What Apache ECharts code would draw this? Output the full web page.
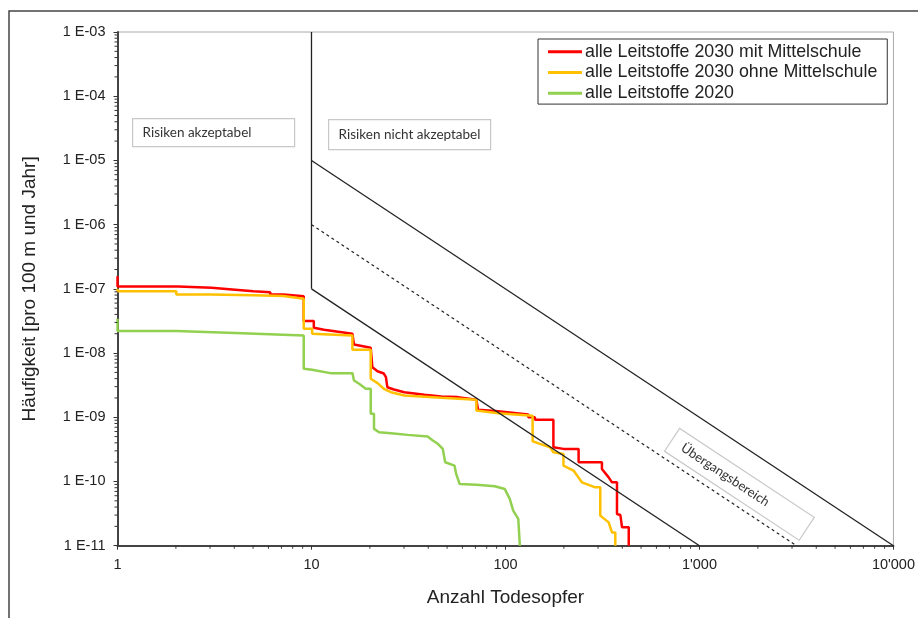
<!DOCTYPE html>
<html>
<head>
<meta charset="utf-8">
<script src="https://cdn.jsdelivr.net/npm/echarts@6/dist/echarts.min.js"></script>
<style>html,body{margin:0;padding:0;background:#fff}#c{width:918px;height:618px}</style>
</head>
<body>
<div id="c"></div>
<script>
// ---- data ----
const seriesNames = ['alle Leitstoffe 2030 mit Mittelschule', 'alle Leitstoffe 2030 ohne Mittelschule', 'alle Leitstoffe 2020'];
const redData = [[1,1.57e-7],[1,1.09e-7],[2.05,1.09e-7],[2.05,1.04e-7],[3.06,1.04e-7],[3.06,9.7e-8],[4.04,9.7e-8],[4.04,9.14e-8],[5.02,9.14e-8],[5.02,8.82e-8],[6.13,8.82e-8],[6.13,8.2e-8],[7.16,8.2e-8],[7.16,7.92e-8],[9.12,7.64e-8],[9.12,3.15e-8],[10.28,3.15e-8],[10.28,2.48e-8],[11.6,2.3e-8],[16.25,2.0e-8],[16.56,2.0e-8],[16.56,1.36e-8],[20.2,1.21e-8],[20.6,1.21e-8],[20.6,6.0e-9],[21.9,5.2e-9],[23.6,4.8e-9],[24.2,4.22e-9],[24.6,4.22e-9],[24.6,2.94e-9],[26.6,2.71e-9],[30.1,2.46e-9],[38.2,2.24e-9],[46.6,2.1e-9],[56.9,2.06e-9],[70.8,1.87e-9],[72.2,1.87e-9],[72.2,1.31e-9],[91.6,1.24e-9],[131.1,1.1e-9],[131.1,1.0e-9],[141.9,1.0e-9],[141.9,9.12e-10],[176.6,9.12e-10],[176.6,3.41e-10],[199,3.22e-10],[238.2,3.22e-10],[238.2,1.99e-10],[314.2,1.99e-10],[314.2,1.57e-10],[340.4,1.16e-10],[354,9.7e-11],[375.7,9.7e-11],[375.7,3.12e-11],[391,3.0e-11],[399,1.93e-11],[432,1.93e-11],[432,1e-11]];
const orangeData = [[1,1.0e-7],[1,9.14e-8],[2.01,9.14e-8],[2.01,8.2e-8],[3.0,8.2e-8],[3.0,7.92e-8],[5.02,7.92e-8],[5.02,7.73e-8],[7.16,7.73e-8],[7.16,7.45e-8],[9.12,7.03e-8],[9.12,2.39e-8],[10.08,2.39e-8],[10.08,2.0e-8],[16.25,1.88e-8],[16.25,1.13e-8],[20.2,1.13e-8],[20.2,3.98e-9],[21.9,3.4e-9],[23.6,2.78e-9],[25.7,2.46e-9],[30.1,2.18e-9],[46.6,2.01e-9],[70.8,1.87e-9],[70.8,1.27e-9],[91.6,1.16e-9],[138,1.06e-9],[138,4.23e-10],[150.6,3.86e-10],[169.6,3.41e-10],[176.6,2.85e-10],[199,2.69e-10],[199,1.77e-10],[224.3,1.48e-10],[247.7,9.7e-11],[290.4,8.1e-11],[308.1,8.1e-11],[308.1,2.94e-11],[340.4,2.31e-11],[354,1.61e-11],[368.3,1.61e-11],[368.3,1e-11]];
const greenData = [[1,3.43e-8],[1,2.2e-8],[2.01,2.2e-8],[2.01,2.05e-8],[4.04,2.05e-8],[4.04,1.93e-8],[9.12,1.88e-8],[9.12,5.69e-9],[10.08,5.5e-9],[12.5,4.87e-9],[16.25,4.87e-9],[16.56,3.74e-9],[17.6,3.32e-9],[19.05,2.78e-9],[20.2,2.78e-9],[20.2,1.13e-9],[21.0,1.13e-9],[21.0,6.6e-10],[22.3,5.85e-10],[25.7,5.64e-10],[31.3,5.32e-10],[39.7,5.01e-10],[42.2,4.34e-10],[44.8,3.86e-10],[47.5,3.22e-10],[48.9,1.99e-10],[54.6,1.77e-10],[55.7,1.31e-10],[58.0,9.16e-11],[70.8,8.93e-11],[88.1,8.41e-11],[99.1,7.66e-11],[105.2,5.35e-11],[109.6,3.51e-11],[116.4,2.61e-11],[118.6,1e-11]];
// reference (criteria) lines
const refVertical = [[10,1e-7],[10,1e-3]];
const refLower = [[10,1e-7],[1000,1e-11]];
const refUpper = [[10,1e-5],[10000,1e-11]];
const refDashed = [[10,1e-6],[3162,1e-11]];
// tick labels
const xTickValues = [1,10,100,1000,10000];
const xTickLabels = ['1','10','100',"1'000","10'000"];
const yTickExps = [-3,-4,-5,-6,-7,-8,-9,-10,-11];
const yTickLabels = ['1 E-03','1 E-04','1 E-05','1 E-06','1 E-07','1 E-08','1 E-09','1 E-10','1 E-11'];
const xMinor = [], yMinor = [];
for (let d = 0; d < 4; d++) for (let k = 2; k <= 9; k++) xMinor.push([k*Math.pow(10,d), 1e-11]);
for (let d = -11; d < -3; d++) for (let k = 2; k <= 9; k++) yMinor.push([1, k*Math.pow(10,d)]);

const chart = echarts.init(document.getElementById('c'), null, {renderer:'canvas'});
const FONT = 'Liberation Sans, Arial, sans-serif';
const ANN = 'Lato, Open Sans, sans-serif';
const minorTick = (axis) => function(params, api){
  const p = api.coord([api.value(0), api.value(1)]);
  const s = {stroke:'#333', lineWidth:1};
  if (axis === 'x') return {type:'line', shape:{x1:p[0], y1:p[1], x2:p[0], y2:p[1]+3}, style:s};
  return {type:'line', shape:{x1:p[0]-3, y1:p[1], x2:p[0], y2:p[1]}, style:s};
};
const refStyle = {color:'#222', width:1.3};
const ang = -33.45*Math.PI/180;
chart.setOption({
  animation:false,
  backgroundColor:'#fff',
  grid:{left:117.5, top:32, right:24.5, bottom:72.3, show:true, borderColor:'#aaa', borderWidth:1},
  legend:{
    data:seriesNames, orient:'vertical', left:538, top:39,
    icon:'rect', itemWidth:34, itemHeight:3, itemGap:0,
    padding:[2.5,10,0.5,10], borderColor:'#333', borderWidth:1, backgroundColor:'#fff',
    textStyle:{fontFamily:FONT, fontSize:17.8, color:'#222', lineHeight:20.7, padding:[0,0,0,-2]},
    selectedMode:false
  },
  xAxis:{
    type:'log', logBase:10, min:1, max:10000,
    name:'Anzahl Todesopfer', nameLocation:'middle', nameGap:43,
    nameTextStyle:{fontFamily:FONT, fontSize:19, color:'#222'},
    axisLine:{show:true, onZero:false, lineStyle:{color:'#444', width:2}},
    axisTick:{show:true, length:4, lineStyle:{color:'#333'}},
    splitLine:{show:false},
    axisLabel:{fontFamily:FONT, fontSize:14.5, color:'#222', margin:12,
      formatter:(v)=>{const i = xTickValues.findIndex(t=>Math.abs(t-v)/t<1e-6); return i>=0?xTickLabels[i]:'';}}
  },
  yAxis:{
    type:'log', logBase:10, min:1e-11, max:1e-3,
    name:'Häufigkeit [pro 100 m und Jahr]', nameLocation:'middle', nameGap:78, nameRotate:90,
    nameTextStyle:{fontFamily:FONT, fontSize:19, color:'#222'},
    axisLine:{show:true, onZero:false, lineStyle:{color:'#444', width:2}},
    axisTick:{show:true, length:4, lineStyle:{color:'#333'}},
    splitLine:{show:false},
    axisLabel:{fontFamily:FONT, fontSize:14.5, color:'#222', margin:12,
      formatter:(v)=>{const e = Math.round(Math.log10(v)); const i = yTickExps.indexOf(e); return i>=0?yTickLabels[i]:'';}}
  },
  series:[
    {name:seriesNames[0], type:'line', data:redData, symbol:'none', color:'#ff0000', lineStyle:{width:2.5, color:'#ff0000'}, z:3},
    {name:seriesNames[1], type:'line', data:orangeData, symbol:'none', color:'#ffc000', lineStyle:{width:2.5, color:'#ffc000'}, z:3},
    {name:seriesNames[2], type:'line', data:greenData, symbol:'none', color:'#92d050', lineStyle:{width:2.5, color:'#92d050'}, z:3},
    {type:'line', data:refVertical, symbol:'none', silent:true, lineStyle:refStyle, z:4},
    {type:'line', data:refLower, symbol:'none', silent:true, lineStyle:refStyle, z:4},
    {type:'line', data:refUpper, symbol:'none', silent:true, lineStyle:refStyle, z:4},
    {type:'line', data:refDashed, symbol:'none', silent:true, lineStyle:{color:'#222', width:1.2, type:[3,3]}, z:4},
    {type:'custom', data:xMinor, renderItem:minorTick('x'), clip:false, silent:true, z:5},
    {type:'custom', data:yMinor, renderItem:minorTick('y'), clip:false, silent:true, z:5}
  ],
  graphic:[
    {type:'rect', z:-10, silent:true, shape:{x:9, y:11, width:1000, height:1000}, style:{fill:null, stroke:'#444', lineWidth:1.5}},
    {type:'group', left:132, top:118, children:[
      {type:'rect', shape:{x:0, y:0, width:162, height:28}, style:{fill:'#fff', stroke:'#c8c8c8', lineWidth:1.2}},
      {type:'text', x:10, y:14, style:{text:'Risiken akzeptabel', font:'13.5px '+ANN, fill:'#333', verticalAlign:'middle'}}
    ]},
    {type:'group', left:328, top:119, children:[
      {type:'rect', shape:{x:0, y:0, width:162, height:30}, style:{fill:'#fff', stroke:'#c8c8c8', lineWidth:1.2}},
      {type:'text', x:10, y:15, style:{text:'Risiken nicht akzeptabel', font:'13.5px '+ANN, fill:'#333', verticalAlign:'middle'}}
    ]},
    {type:'group', x:739.4, y:484.3, rotation:ang, z:10, children:[
      {type:'rect', shape:{x:-80.7, y:-13.7, width:161.4, height:27.4}, style:{fill:'#fff', stroke:'#c8c8c8', lineWidth:1.2}},
      {type:'text', x:-17, y:0, style:{text:'Übergangsbereich', font:'13px '+ANN, fill:'#333', align:'center', verticalAlign:'middle'}}
    ]}
  ]
});
</script>
</body>
</html>
